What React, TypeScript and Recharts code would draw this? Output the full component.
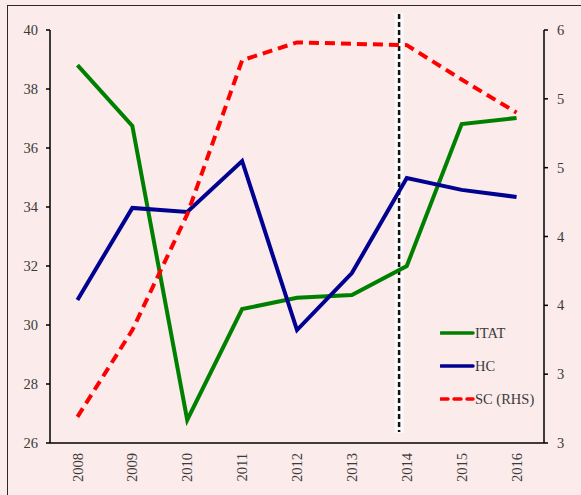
import React from 'react';
import { LineChart, Line, XAxis, YAxis, ReferenceLine, Legend } from 'recharts';

// Annual series
const years = [2008, 2009, 2010, 2011, 2012, 2013, 2014, 2015, 2016];
const itat = [38.81, 36.75, 26.78, 30.54, 30.92, 31.02, 32.0, 36.81, 37.02];
const hc = [30.85, 33.97, 33.83, 35.56, 29.83, 31.76, 34.98, 34.58, 34.34];
const sc = [3.19, 3.82, 4.66, 5.78, 5.91, 5.9, 5.89, 5.64, 5.4];

// Axis ticks
const leftTicks = [26, 28, 30, 32, 34, 36, 38, 40];
const rightTicks = [3, 3.5, 4, 4.5, 5, 5.5, 6];

// Structural break marker (fractional year) and its vertical extent on the left scale
const breakYear = 2013.86;
const breakTop = 40.58;
const breakBottom = 26.34;

const seriesInfo = [
  { key: 'ITAT', color: '#008000', dashed: false },
  { key: 'HC', color: '#000091', dashed: false },
  { key: 'SC (RHS)', color: '#FF0000', dashed: true },
];

const data = years.map((year, i) => ({
  year,
  ITAT: itat[i],
  HC: hc[i],
  'SC (RHS)': sc[i],
}));

const FONT = 'Liberation Serif, Times New Roman, serif';
const TEXT = '#3a3a3a';

const YearTick = (props: any) => {
  const { x, y, payload } = props;
  return (
    <text
      x={x}
      y={y}
      dy="0.35em"
      transform={`rotate(-90 ${x} ${y})`}
      textAnchor="end"
      style={{ fontFamily: FONT }}
      fontSize={14.5}
      fill={TEXT}
    >
      {payload.value}
    </text>
  );
};

// Break marker: soft light band behind a black dashed rule
const BreakShape = (props: any) => {
  const { x1, y1, x2, y2 } = props;
  return (
    <g>
      <line x1={x1} y1={y1} x2={x2} y2={y2} stroke="#fbfbfb" strokeOpacity={0.9} strokeWidth={9} />
      <line
        x1={x1}
        y1={y1 + 1}
        x2={x2}
        y2={y2 - 1}
        stroke="#111"
        strokeWidth={2.5}
        strokeDasharray="5 3"
      />
    </g>
  );
};

const LegendBox = () => (
  <svg width={110} height={90}>
    {seriesInfo.map((s, i) => {
      const cy = 11 + i * 33;
      return (
        <g key={s.key}>
          <line
            x1={1}
            x2={33}
            y1={cy}
            y2={cy}
            stroke={s.color}
            strokeWidth={3.5}
            strokeLinecap="round"
            strokeDasharray={s.dashed ? '7 6' : undefined}
          />
          <text x={35} y={cy} dy="0.35em" style={{ fontFamily: FONT }} fontSize={14.5} fill={TEXT}>
            {s.key}
          </text>
        </g>
      );
    })}
  </svg>
);

export default function App() {
  return (
    <div
      style={{
        position: 'absolute',
        left: 0,
        top: 0,
        width: 581,
        height: 495,
        overflow: 'hidden',
        background: '#FBEBEB',
        fontFamily: FONT,
      }}
    >
      <div
        style={{
          position: 'absolute',
          left: 7,
          top: 5,
          width: 800,
          height: 800,
          borderTop: '1.5px solid #2a2a2a',
          borderLeft: '1.5px solid #2a2a2a',
        }}
      />
      <div style={{ position: 'absolute', left: 0, top: 0 }}>
        <LineChart width={581} height={495} data={data} margin={{ top: 30, right: 0, bottom: 0, left: 0 }}>
          <XAxis
            dataKey="year"
            type="number"
            domain={[2007.5, 2016.5]}
            ticks={years}
            interval={0}
            height={52}
            tickLine={false}
            tickSize={0}
            tickMargin={10}
            tick={<YearTick />}
            axisLine={{ stroke: '#000', strokeWidth: 1.5 }}
          />
          <YAxis
            yAxisId="left"
            orientation="left"
            width={50}
            domain={[26, 40]}
            ticks={leftTicks}
            interval={0}
            tickSize={4}
            tickMargin={8}
            tickLine={{ stroke: '#000', strokeWidth: 1.5 }}
            axisLine={{ stroke: '#000', strokeWidth: 1.5 }}
            tick={{ fontSize: 14.5, fill: TEXT, style: { fontFamily: FONT } }}
          />
          <YAxis
            yAxisId="right"
            orientation="right"
            width={37}
            domain={[3, 6]}
            ticks={rightTicks}
            interval={0}
            tickSize={4}
            tickMargin={9}
            tickFormatter={(v: number) => String(Math.floor(v))}
            tickLine={{ stroke: '#000', strokeWidth: 1.5 }}
            axisLine={{ stroke: '#000', strokeWidth: 1.5 }}
            tick={{ fontSize: 14.5, fill: TEXT, style: { fontFamily: FONT } }}
          />
          <ReferenceLine
            yAxisId="left"
            ifOverflow="visible"
            segment={[
              { x: breakYear, y: breakTop },
              { x: breakYear, y: breakBottom },
            ]}
            shape={BreakShape}
          />
          <Line
            yAxisId="left"
            dataKey="ITAT"
            stroke="#008000"
            strokeWidth={4}
            dot={false}
            isAnimationActive={false}
          />
          <Line
            yAxisId="left"
            dataKey="HC"
            stroke="#000091"
            strokeWidth={4}
            dot={false}
            isAnimationActive={false}
          />
          <Line
            yAxisId="right"
            dataKey="SC (RHS)"
            stroke="#FF0000"
            strokeWidth={4}
            strokeDasharray="10 6"
            dot={false}
            isAnimationActive={false}
          />
          <Legend
            layout="horizontal"
            verticalAlign="middle"
            align="center"
            content={<LegendBox />}
            wrapperStyle={{ position: 'absolute', left: 440, top: 322, width: 110, height: 90 }}
          />
        </LineChart>
      </div>
    </div>
  );
}
